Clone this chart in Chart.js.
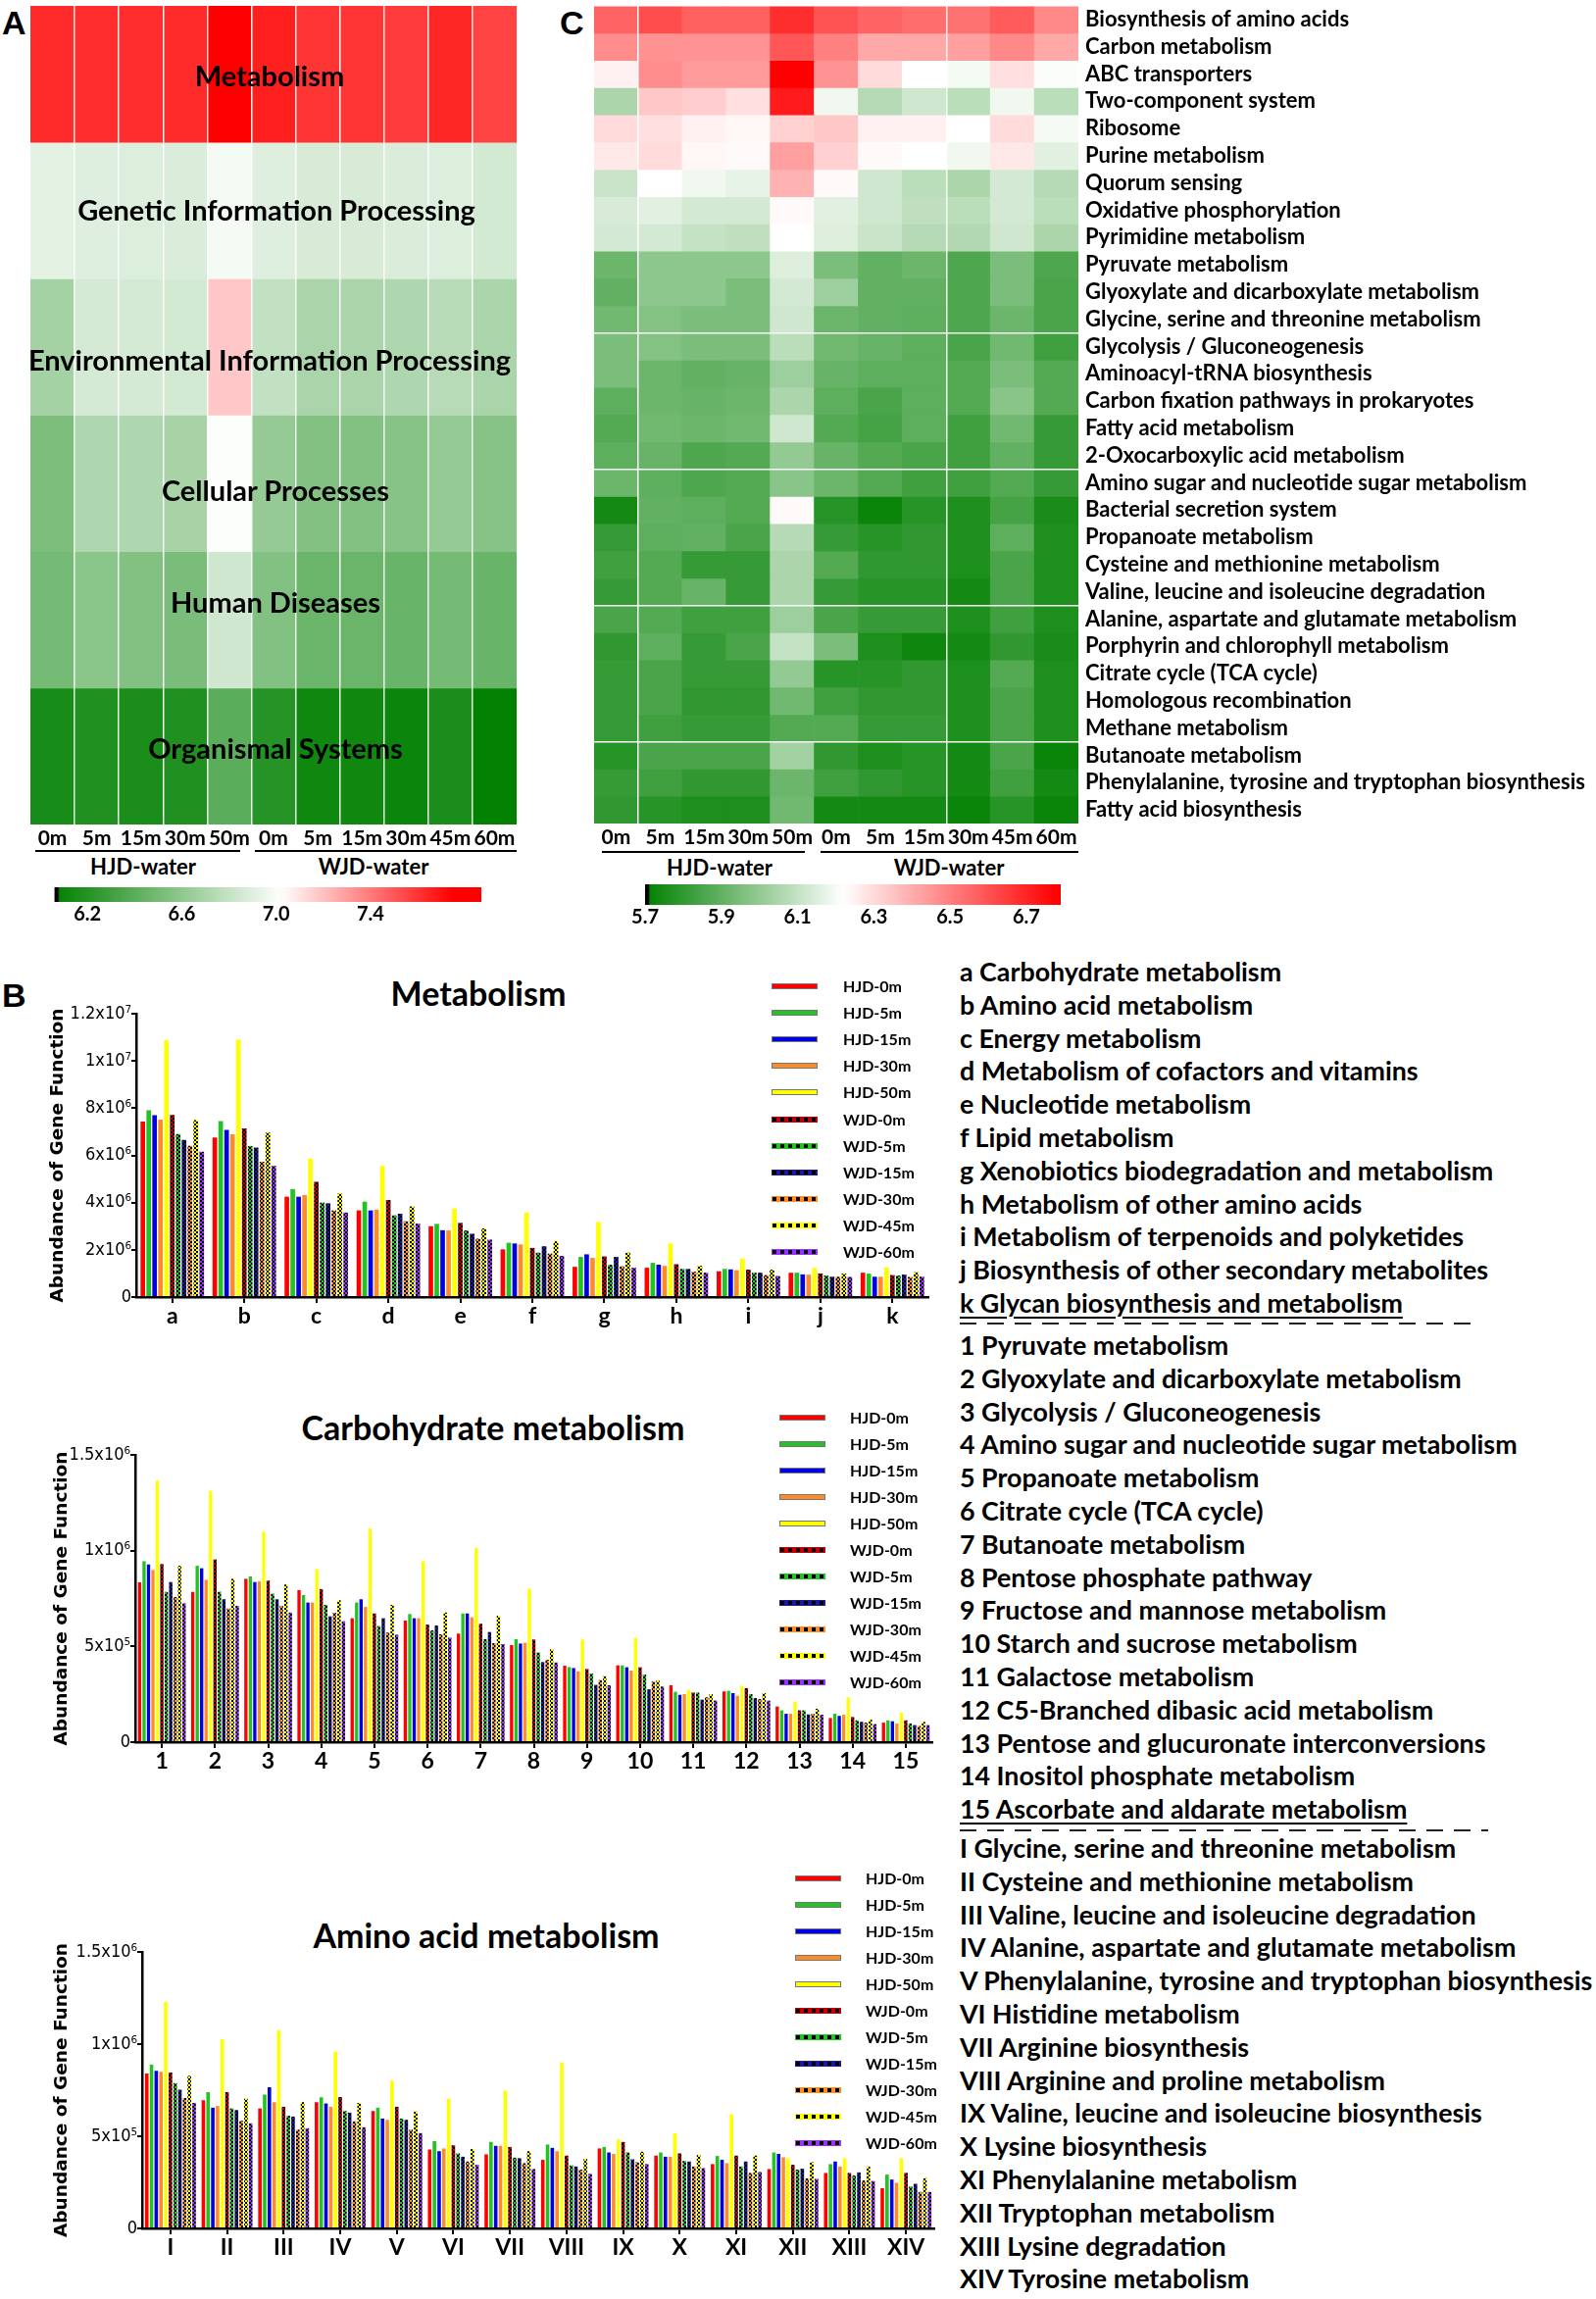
<!DOCTYPE html>
<html><head><meta charset="utf-8">
<script src="https://cdn.jsdelivr.net/npm/chart.js@4.4.1/dist/chart.umd.min.js"></script>
<style>
html,body{margin:0;padding:0;background:#fff;}
body{width:1628px;height:2345px;position:relative;overflow:hidden;font-family:Lato,sans-serif;font-weight:700;color:#000;}
canvas{position:absolute;}
.t{position:absolute;white-space:nowrap;}
.c{transform:translate(-50%,-50%);}
.letter{font-family:'Liberation Sans',Arial,sans-serif;font-weight:700;font-size:34px;}
.rule{position:absolute;height:2px;background:#000;}
.dash{position:absolute;height:2px;background:repeating-linear-gradient(90deg,#222 0 17px,transparent 17px 28px);}
.list{position:absolute;left:979px;font-size:26.8px;line-height:33.8px;}
.list div{white-space:nowrap;}
.ul{text-decoration:underline;text-decoration-thickness:2px;text-underline-offset:4px;}
.btitle{font-size:34px;}
.leg{position:absolute;font-size:16px;}
</style></head><body>

<div class="t letter" style="left:2px;top:4px;">A</div>
<div class="t letter" style="left:571px;top:4px;">C</div>
<div class="t letter" style="left:2px;top:996px;">B</div>

<div class="rule" style="left:36px;width:209px;top:867px;"></div>
<div class="rule" style="left:260px;width:267px;top:867px;"></div>
<div class="t c" style="left:146px;top:883px;font-size:22px;">HJD-water</div>
<div class="t c" style="left:381px;top:883px;font-size:22px;">WJD-water</div>

<div class="rule" style="left:614px;width:207px;top:868px;"></div>
<div class="rule" style="left:837px;width:263px;top:868px;"></div>
<div class="t c" style="left:734px;top:884px;font-size:22px;">HJD-water</div>
<div class="t c" style="left:968px;top:884px;font-size:22px;">WJD-water</div>

<div class="t c btitle" style="left:488px;top:1012px;">Metabolism</div>
<div class="t c btitle" style="left:503px;top:1455px;">Carbohydrate metabolism</div>
<div class="t c btitle" style="left:496px;top:1973px;">Amino acid metabolism</div>

<div class="list" style="top:975px;">
<div>a Carbohydrate metabolism</div>
<div>b Amino acid metabolism</div>
<div>c Energy metabolism</div>
<div>d Metabolism of cofactors and vitamins</div>
<div>e Nucleotide metabolism</div>
<div>f Lipid metabolism</div>
<div>g Xenobiotics biodegradation and metabolism</div>
<div>h Metabolism of other amino acids</div>
<div>i Metabolism of terpenoids and polyketides</div>
<div>j Biosynthesis of other secondary metabolites</div>
<div><span class="ul">k Glycan biosynthesis and metabolism</span></div>
</div>
<div class="dash" style="left:979px;width:532px;top:1349px;"></div>
<div class="list" style="top:1356px;">
<div>1 Pyruvate metabolism</div>
<div>2 Glyoxylate and dicarboxylate metabolism</div>
<div>3 Glycolysis / Gluconeogenesis</div>
<div>4 Amino sugar and nucleotide sugar metabolism</div>
<div>5 Propanoate metabolism</div>
<div>6 Citrate cycle (TCA cycle)</div>
<div>7 Butanoate metabolism</div>
<div>8 Pentose phosphate pathway</div>
<div>9 Fructose and mannose metabolism</div>
<div>10 Starch and sucrose metabolism</div>
<div>11 Galactose metabolism</div>
<div>12 C5-Branched dibasic acid metabolism</div>
<div>13 Pentose and glucuronate interconversions</div>
<div>14 Inositol phosphate metabolism</div>
<div><span class="ul">15 Ascorbate and aldarate metabolism</span></div>
</div>
<div class="dash" style="left:979px;width:539px;top:1866px;"></div>
<div class="list" style="top:1869px;">
<div>I Glycine, serine and threonine metabolism</div>
<div>II Cysteine and methionine metabolism</div>
<div>III Valine, leucine and isoleucine degradation</div>
<div>IV Alanine, aspartate and glutamate metabolism</div>
<div>V Phenylalanine, tyrosine and tryptophan biosynthesis</div>
<div>VI Histidine metabolism</div>
<div>VII Arginine biosynthesis</div>
<div>VIII Arginine and proline metabolism</div>
<div>IX Valine, leucine and isoleucine biosynthesis</div>
<div>X Lysine biosynthesis</div>
<div>XI Phenylalanine metabolism</div>
<div>XII Tryptophan metabolism</div>
<div>XIII Lysine degradation</div>
<div>XIV Tyrosine metabolism</div>
</div>

<script>
// ---------------- DATA ----------------
const colLabels = ['0m','5m','15m','30m','50m','0m','5m','15m','30m','45m','60m'];

const heatA_rows = ['Metabolism','Genetic Information Processing','Environmental Information Processing','Cellular Processes','Human Diseases','Organismal Systems'];
const heatA = [
  [7.63,7.62,7.62,7.63,7.80,7.66,7.60,7.60,7.58,7.64,7.56],
  [6.92,6.90,6.89,6.88,6.98,6.90,6.87,6.87,6.88,6.89,6.85],
  [6.68,6.86,6.86,6.85,7.18,6.79,6.70,6.70,6.72,6.75,6.70],
  [6.53,6.72,6.72,6.69,7.01,6.62,6.55,6.55,6.57,6.62,6.57],
  [6.50,6.58,6.55,6.52,6.84,6.55,6.46,6.46,6.45,6.50,6.45],
  [6.15,6.18,6.16,6.18,6.40,6.20,6.12,6.12,6.10,6.16,6.07]
];

const heatC_rows = ['Biosynthesis of amino acids','Carbon metabolism','ABC transporters','Two-component system','Ribosome','Purine metabolism','Quorum sensing','Oxidative phosphorylation','Pyrimidine metabolism','Pyruvate metabolism','Glyoxylate and dicarboxylate metabolism','Glycine, serine and threonine metabolism','Glycolysis / Gluconeogenesis','Aminoacyl-tRNA biosynthesis','Carbon fixation pathways in prokaryotes','Fatty acid metabolism','2-Oxocarboxylic acid metabolism','Amino sugar and nucleotide sugar metabolism','Bacterial secretion system','Propanoate metabolism','Cysteine and methionine metabolism','Valine, leucine and isoleucine degradation','Alanine, aspartate and glutamate metabolism','Porphyrin and chlorophyll metabolism','Citrate cycle (TCA cycle)','Homologous recombination','Methane metabolism','Butanoate metabolism','Phenylalanine, tyrosine and tryptophan biosynthesis','Fatty acid biosynthesis'];
const heatC = [
  [6.56,6.61,6.57,6.57,6.68,6.60,6.56,6.54,6.53,6.58,6.48],
  [6.47,6.46,6.46,6.46,6.59,6.50,6.41,6.41,6.43,6.48,6.41],
  [6.25,6.47,6.44,6.44,6.78,6.46,6.30,6.22,6.20,6.29,6.21],
  [6.05,6.34,6.33,6.29,6.72,6.19,6.07,6.12,6.08,6.19,6.08],
  [6.30,6.29,6.25,6.24,6.32,6.34,6.25,6.25,6.22,6.30,6.20],
  [6.27,6.30,6.24,6.23,6.43,6.32,6.23,6.22,6.19,6.27,6.16],
  [6.11,6.22,6.19,6.17,6.39,6.23,6.12,6.08,6.05,6.13,6.07],
  [6.14,6.16,6.13,6.13,6.23,6.16,6.12,6.09,6.08,6.13,6.08],
  [6.13,6.13,6.10,6.09,6.22,6.15,6.11,6.07,6.06,6.12,6.05],
  [5.92,5.99,5.99,5.99,6.15,5.95,5.90,5.92,5.86,5.95,5.86],
  [5.90,5.99,5.99,5.95,6.13,6.02,5.90,5.90,5.86,5.95,5.85],
  [5.93,5.97,5.95,5.95,6.12,5.92,5.90,5.89,5.86,5.92,5.85],
  [5.95,5.97,5.95,5.95,6.08,5.93,5.91,5.89,5.85,5.93,5.83],
  [5.95,5.92,5.90,5.91,6.02,5.91,5.89,5.89,5.87,5.95,5.87],
  [5.89,5.92,5.91,5.92,6.05,5.89,5.85,5.89,5.87,5.98,5.87],
  [5.87,5.93,5.92,5.93,6.12,5.87,5.84,5.89,5.83,5.93,5.81],
  [5.89,5.91,5.86,5.87,6.00,5.91,5.87,5.85,5.83,5.90,5.81],
  [5.92,5.89,5.86,5.87,5.98,5.92,5.87,5.83,5.83,5.87,5.81],
  [5.74,5.90,5.89,5.87,6.23,5.78,5.72,5.78,5.76,5.84,5.75],
  [5.81,5.89,5.90,5.85,6.07,5.81,5.78,5.80,5.76,5.89,5.76],
  [5.83,5.87,5.81,5.81,6.05,5.87,5.80,5.80,5.76,5.85,5.76],
  [5.81,5.87,5.91,5.81,6.05,5.81,5.78,5.78,5.74,5.85,5.76],
  [5.85,5.87,5.83,5.83,6.02,5.85,5.81,5.81,5.76,5.83,5.76],
  [5.80,5.89,5.81,5.85,6.10,5.95,5.76,5.73,5.74,5.80,5.75],
  [5.81,5.85,5.81,5.81,6.00,5.78,5.78,5.80,5.76,5.87,5.76],
  [5.81,5.85,5.80,5.80,5.93,5.83,5.80,5.80,5.76,5.85,5.76],
  [5.81,5.83,5.81,5.81,5.87,5.87,5.81,5.81,5.76,5.85,5.76],
  [5.78,5.85,5.85,5.85,6.03,5.80,5.76,5.78,5.74,5.85,5.72],
  [5.81,5.83,5.80,5.80,5.92,5.83,5.80,5.78,5.74,5.83,5.74],
  [5.80,5.78,5.76,5.76,5.93,5.74,5.74,5.74,5.72,5.78,5.72]
];

const cbarA_range = [6.06, 7.87];
const cbarA_ticks = [6.2, 6.6, 7.0, 7.4];
const cbarC_range = [5.70, 6.79];
const cbarC_ticks = [5.7, 5.9, 6.1, 6.3, 6.5, 6.7];

const seriesNames = ['HJD-0m','HJD-5m','HJD-15m','HJD-30m','HJD-50m','WJD-0m','WJD-5m','WJD-15m','WJD-30m','WJD-45m','WJD-60m'];

// Metabolism, values in units of 10^6, one row per category (series order as seriesNames)
const metabGroups = ['a','b','c','d','e','f','g','h','i','j','k'];
const metabValues = [
  [7.43,7.91,7.70,7.52,10.88,7.71,6.90,6.65,6.40,7.50,6.16],
  [6.76,7.45,7.08,6.89,10.90,7.14,6.39,6.33,5.73,6.97,5.55],
  [4.25,4.57,4.25,4.32,5.86,4.88,4.00,3.97,3.67,4.38,3.58],
  [3.67,4.04,3.67,3.70,5.55,4.11,3.46,3.53,3.21,3.84,3.11],
  [3.00,3.10,2.83,2.82,3.74,3.14,2.82,2.68,2.47,2.91,2.43],
  [2.02,2.30,2.27,2.23,3.58,2.08,1.88,2.15,1.84,2.36,1.74],
  [1.28,1.70,1.81,1.66,3.18,1.72,1.37,1.70,1.30,1.88,1.24],
  [1.24,1.45,1.37,1.32,2.27,1.39,1.19,1.19,1.07,1.32,1.03],
  [1.09,1.19,1.17,1.14,1.63,1.16,1.03,1.03,0.93,1.16,0.89],
  [1.03,1.03,0.96,0.95,1.23,1.00,0.91,0.86,0.86,1.00,0.85],
  [1.03,0.99,0.86,0.86,1.25,0.93,0.91,0.95,0.85,1.05,0.86]
];
const metabYTicks = ['0','2x10\u2076','4x10\u2076','6x10\u2076','8x10\u2076','1x10\u2077','1.2x10\u2077'];

// Carbohydrate metabolism, units of 10^5
const carbGroups = ['1','2','3','4','5','6','7','8','9','10','11','12','13','14','15'];
const carbValues = [
  [8.35,9.45,9.28,8.99,13.65,9.30,7.85,8.36,7.58,9.21,7.25],
  [7.85,9.21,9.08,8.48,13.12,9.54,7.85,7.46,6.98,8.52,7.12],
  [8.53,8.65,8.36,8.40,10.99,8.43,7.75,7.46,7.12,8.23,6.77],
  [7.94,7.68,7.29,7.29,9.04,7.99,7.17,6.57,6.76,7.41,6.31],
  [6.47,7.29,7.46,7.06,11.16,6.72,6.06,6.47,5.72,7.17,5.61],
  [6.35,6.69,6.47,6.47,9.45,6.14,5.84,6.09,5.63,6.77,5.46],
  [5.67,6.72,6.72,6.52,10.14,6.18,5.38,5.75,5.17,6.60,5.12],
  [5.07,5.38,5.15,5.19,8.02,5.36,4.68,4.18,4.30,4.85,4.16],
  [3.99,3.92,3.87,3.70,5.36,3.82,3.58,2.99,3.24,3.45,2.97],
  [4.01,4.01,3.91,3.74,5.44,3.91,3.53,2.76,3.16,3.23,2.90],
  [2.97,2.63,2.47,2.51,2.73,2.59,2.59,2.22,2.34,2.51,2.17],
  [2.65,2.68,2.56,2.42,2.94,2.82,2.51,2.30,2.25,2.56,2.17],
  [1.86,1.66,1.48,1.48,2.12,1.66,1.66,1.45,1.48,1.74,1.43],
  [1.26,1.48,1.37,1.43,2.34,1.31,1.14,1.06,1.02,1.18,0.94],
  [1.02,1.14,1.09,0.97,1.54,1.14,0.97,0.89,0.85,1.06,0.89]
];
const carbYTicks = ['0','5x10\u2075','1x10\u2076','1.5x10\u2076'];

// Amino acid metabolism, units of 10^5
const aminoGroups = ['I','II','III','IV','V','VI','VII','VIII','IX','X','XI','XII','XIII','XIV'];
const aminoValues = [
  [8.41,8.88,8.55,8.50,12.30,8.46,7.88,7.52,7.08,8.28,6.81],
  [6.96,7.40,6.55,6.64,10.27,7.40,6.51,6.42,5.84,7.04,5.70],
  [6.51,7.26,7.66,6.85,10.76,6.60,6.11,6.07,5.36,6.85,5.43],
  [6.85,7.12,6.78,6.60,9.59,7.13,6.37,6.28,5.81,6.81,5.49],
  [6.37,6.55,5.96,5.89,8.02,6.60,5.96,5.89,5.36,6.34,5.17],
  [4.28,4.74,4.19,4.34,7.03,4.51,4.07,3.89,3.63,4.30,3.45],
  [4.02,4.69,4.48,4.48,7.47,4.42,3.84,3.81,3.54,4.19,3.22],
  [3.72,4.55,4.37,4.19,8.99,3.95,3.42,3.36,3.19,3.77,2.96],
  [4.34,4.42,4.12,4.04,4.83,4.69,4.12,3.75,3.59,4.16,3.49],
  [3.95,4.12,3.89,3.89,5.17,4.07,3.66,3.63,3.36,3.98,3.27],
  [3.49,3.93,3.72,3.54,6.19,3.95,3.36,3.63,3.01,3.95,3.06],
  [3.22,4.12,4.04,3.86,3.81,3.45,3.19,3.24,2.71,3.59,2.69],
  [3.01,3.49,3.63,3.36,3.81,3.01,2.87,3.04,2.60,3.36,2.57],
  [2.18,2.92,2.65,2.48,3.81,3.01,2.27,2.42,1.98,2.73,1.98]
];
const aminoYTicks = ['0','5x10\u2075','1x10\u2076','1.5x10\u2076'];

// ---------------- STYLE ----------------
const seriesColors = ['#ff0000','#22c322','#0000e0','#ff8a28','#ffff00','#c40000','#22c322','#1a1a9a','#ff8a28','#ffff00','#9b30ff'];
const seriesChecked = [false,false,false,false,false,true,true,true,true,true,true];
const scaleA = {lo:6.06, mid:7.02, hi:7.75};
const scaleC = {lo:5.70, mid:6.22, hi:6.78};

Chart.defaults.font.family = 'Lato, sans-serif';
Chart.defaults.color = '#000';

function mkCanvas(left, top, w, h){
  const c = document.createElement('canvas');
  c.width = w; c.height = h;
  c.style.left = left+'px'; c.style.top = top+'px';
  c.style.width = w+'px'; c.style.height = h+'px';
  document.body.appendChild(c);
  return c;
}
function divColor(v, sc){
  if (v <= sc.mid){
    const s = Math.min(1, Math.max(0, (sc.mid - v)/(sc.mid - sc.lo)));
    const a = Math.round(255*(1-s)), g = Math.round(255 - 127*s);
    return `rgb(${a},${g},${a})`;
  }
  const t = Math.min(1, (v - sc.mid)/(sc.hi - sc.mid));
  const g = Math.round(255*(1-t));
  return `rgb(255,${g},${g})`;
}
const fontL = (size)=>({family:'Lato, sans-serif', weight:'700', size});
function noPad(s){ s.paddingTop = 0; s.paddingBottom = 0; s.paddingLeft = 0; s.paddingRight = 0; }

// ---------------- HEATMAP A ----------------
const chartA = new Chart(mkCanvas(0,0,560,880), {
  type:'bar',
  data:{labels:colLabels, datasets: heatA.map((row,ri)=>({
    label:heatA_rows[ri], data: row.map(()=>1), backgroundColor: row.map(v=>divColor(v,scaleA)),
    borderWidth:0, barPercentage:1, categoryPercentage:1, yAxisID:'y'
  }))},
  options:{responsive:false, animation:false, events:[],
    layout:{padding:{left:31,right:33,top:6,bottom:0}},
    plugins:{legend:{display:false}, tooltip:{enabled:false}},
    scales:{
      x:{stacked:true,
        grid:{z:1, offset:true, drawTicks:false, lineWidth:1.5,
          color:(c)=> (c.index>0 && c.index<colLabels.length) ? 'rgba(255,255,255,0.9)' : 'rgba(0,0,0,0)'},
        border:{display:false},
        ticks:{font:fontL(21), color:'#000', padding:2, maxRotation:0, autoSkip:false},
        afterFit:(s)=>{s.height=39; noPad(s);}},
      y:{stacked:true, min:0, max:heatA_rows.length, reverse:true, display:false}
    }
  }
});
// row labels centred on cells
const labelShift = [0,-2,12,6,-19,-9];
const labelDx = [-4,3,-4,2,2,2];
heatA_rows.forEach((name,ri)=>{
  const d = document.createElement('div');
  d.className = 't c';
  d.style.fontSize = '29px';
  const ca = chartA.chartArea;
  d.style.left = ((ca.left+ca.right)/2 + labelDx[ri]) + 'px';
  d.style.top = (chartA.scales.y.getPixelForValue(ri+0.5) + labelShift[ri]) + 'px';
  d.textContent = name;
  document.body.appendChild(d);
});

// ---------------- HEATMAP C ----------------
const hLinesC = [12,17,22,27];
const vLinesC = [1,8];
new Chart(mkCanvas(590,0,1038,880), {
  type:'bar',
  data:{labels:colLabels, datasets: heatC.map((row,ri)=>({
    label:heatC_rows[ri], data: row.map(()=>1), backgroundColor: row.map(v=>divColor(v,scaleC)),
    borderWidth:0, barPercentage:1, categoryPercentage:1, yAxisID:'y'
  }))},
  options:{responsive:false, animation:false, events:[],
    layout:{padding:{left:16,right:0,top:6,bottom:0}},
    plugins:{legend:{display:false}, tooltip:{enabled:false}},
    scales:{
      x:{stacked:true,
        grid:{z:1, offset:true, drawTicks:false, lineWidth:1.5,
          color:(c)=> vLinesC.includes(c.index) ? 'rgba(255,255,255,0.95)' : 'rgba(0,0,0,0)'},
        border:{display:false},
        ticks:{font:fontL(21), color:'#000', padding:2, maxRotation:0, autoSkip:false},
        afterFit:(s)=>{s.height=40; noPad(s);}},
      y:{stacked:true, min:0, max:heatC_rows.length, reverse:true, position:'left',
        ticks:{display:false, stepSize:1},
        grid:{z:1, drawTicks:false, lineWidth:1.5,
          color:(c)=> (c.tick && hLinesC.includes(c.tick.value)) ? 'rgba(255,255,255,0.95)' : 'rgba(0,0,0,0)'},
        border:{display:false},
        afterFit:(s)=>{s.width=0; noPad(s);}},
      yLab:{type:'category', labels:heatC_rows, position:'right', offset:true,
        grid:{display:false, drawTicks:false}, border:{display:false},
        ticks:{font:fontL(22), color:'#000', padding:7, crossAlign:'near', autoSkip:false},
        afterFit:(s)=>{s.width=528; noPad(s);}}
    }
  }
});

// ---------------- COLOR BARS ----------------
function colorBar(left, top, w, h, pad, range, ticks, sc){
  new Chart(mkCanvas(left, top, w, h), {
    type:'bar',
    data:{labels:[''], datasets:[{data:[range], borderWidth:0, barPercentage:1, categoryPercentage:1,
      backgroundColor:(ctx)=>{
        const ch = ctx.chart, ca = ch.chartArea;
        if (!ca) return '#ccc';
        const g = ch.ctx.createLinearGradient(ca.left,0,ca.right,0);
        g.addColorStop(0,'#000'); g.addColorStop(0.008,'#000');
        for (let k=0;k<=60;k++){
          const p = 0.012 + k/60*(1-0.012);
          g.addColorStop(p, divColor(range[0] + p*(range[1]-range[0]), sc));
        }
        return g;
      }}]},
    options:{indexAxis:'y', responsive:false, animation:false, events:[],
      layout:{padding:pad},
      plugins:{legend:{display:false}, tooltip:{enabled:false}},
      scales:{
        x:{type:'linear', min:range[0], max:range[1],
          afterBuildTicks:(s)=>{s.ticks = ticks.map(v=>({value:v}));},
          ticks:{callback:(v)=>Number(v).toFixed(1), font:fontL(20), color:'#000', padding:1, maxRotation:0, autoSkip:false},
          grid:{display:false, drawTicks:false}, border:{display:false},
          afterFit:(s)=>{s.height=35; noPad(s);}},
        y:{display:false}
      }
    }
  });
}
colorBar(30, 895, 490, 60, {left:25.5,right:29,top:10,bottom:0}, cbarA_range, cbarA_ticks, scaleA);
colorBar(636, 892, 476, 66, {left:22,right:30,top:10,bottom:0}, cbarC_range, cbarC_ticks, scaleC);

// ---------------- BAR CHARTS ----------------
function checker(color){
  const c = document.createElement('canvas'); c.width = 4; c.height = 4;
  const x = c.getContext('2d');
  x.fillStyle = color; x.fillRect(0,0,4,4);
  x.fillStyle = '#000'; x.fillRect(0,0,2,2); x.fillRect(2,2,2,2);
  return x.createPattern(c,'repeat');
}
const seriesFills = seriesColors.map((c,i)=> seriesChecked[i] ? checker(c) : c);

function barChart(o){
  new Chart(mkCanvas(o.box[0], o.box[1], o.box[2], o.box[3]), {
    type:'bar',
    data:{labels:o.groups, datasets: seriesNames.map((name,si)=>({
      label:name, data:o.values.map(g=>g[si]), backgroundColor:seriesFills[si], borderWidth:0,
      categoryPercentage:o.cat, barPercentage:o.bar
    }))},
    options:{responsive:false, animation:false, events:[],
      layout:{padding:o.pad},
      plugins:{legend:{display:false}, tooltip:{enabled:false}},
      scales:{
        x:{grid:{offset:false, drawOnChartArea:false, drawTicks:true, tickLength:6, color:'#000', lineWidth:2},
          border:{color:'#000', width:2.5},
          ticks:{font:fontL(23), color:'#000', padding:0, autoSkip:false, maxRotation:0},
          afterFit:(s)=>{s.height=42; noPad(s);}},
        y:{min:0, max:o.yMax,
          ticks:{stepSize:o.yStep, callback:(v)=>o.yTicks[Math.round(v/o.yStep)],
            font:{family:"'Liberation Sans Narrow', 'DejaVu Sans Condensed', Roboto, sans-serif", size:18}, color:'#000', padding:0},
          grid:{drawOnChartArea:false, drawTicks:true, tickLength:5, color:'#000', lineWidth:2},
          border:{color:'#000', width:2.5},
          title:{display:true, text:'Abundance of Gene Function', color:'#000',
            font:{family:"'DejaVu Sans', Verdana, sans-serif", weight:'bold', size:18.5},
            padding:{top:o.titlePad, bottom:0}},
          afterFit:(s)=>{s.width=o.yWidth; noPad(s);}}
      }
    }
  });
  // legend
  seriesNames.forEach((name,si)=>{
    const y = o.leg[2] + si*o.leg[3];
    const s = document.createElement('div');
    s.className = 'leg';
    s.style.left = o.leg[0]+'px'; s.style.top = (y-3)+'px';
    s.style.width = '45px'; s.style.height = '4px';
    if (seriesChecked[si]){
      s.style.border = '1px solid '+seriesColors[si];
      s.style.background = `repeating-linear-gradient(90deg,#000 0 4px,${seriesColors[si]} 4px 8px)`;
    } else {
      s.style.border = '1px solid #777';
      s.style.background = seriesColors[si];
    }
    document.body.appendChild(s);
    const l = document.createElement('div');
    l.className = 'leg';
    l.style.left = o.leg[1]+'px'; l.style.top = (y-10)+'px';
    l.style.lineHeight = '20px';
    l.textContent = name;
    document.body.appendChild(l);
  });
}

barChart({groups:metabGroups, values:metabValues, yMax:12, yStep:2, yTicks:metabYTicks,
  box:[20,1020,940,345], pad:{left:0,right:13,top:14,bottom:0}, yWidth:119, titlePad:28,
  cat:0.9, bar:0.78, leg:[787,860,1006,27.1]});
barChart({groups:carbGroups, values:carbValues, yMax:15, yStep:5, yTicks:carbYTicks,
  box:[20,1470,940,349], pad:{left:0,right:9,top:14,bottom:0}, yWidth:118, titlePad:32,
  cat:0.92, bar:0.74, leg:[795,867,1446,27]});
barChart({groups:aminoGroups, values:aminoValues, yMax:15, yStep:5, yTicks:aminoYTicks,
  box:[20,1976,940,339], pad:{left:0,right:7,top:15,bottom:0}, yWidth:125, titlePad:32,
  cat:0.92, bar:0.75, leg:[811,883,1916,27]});
</script>
</body></html>
